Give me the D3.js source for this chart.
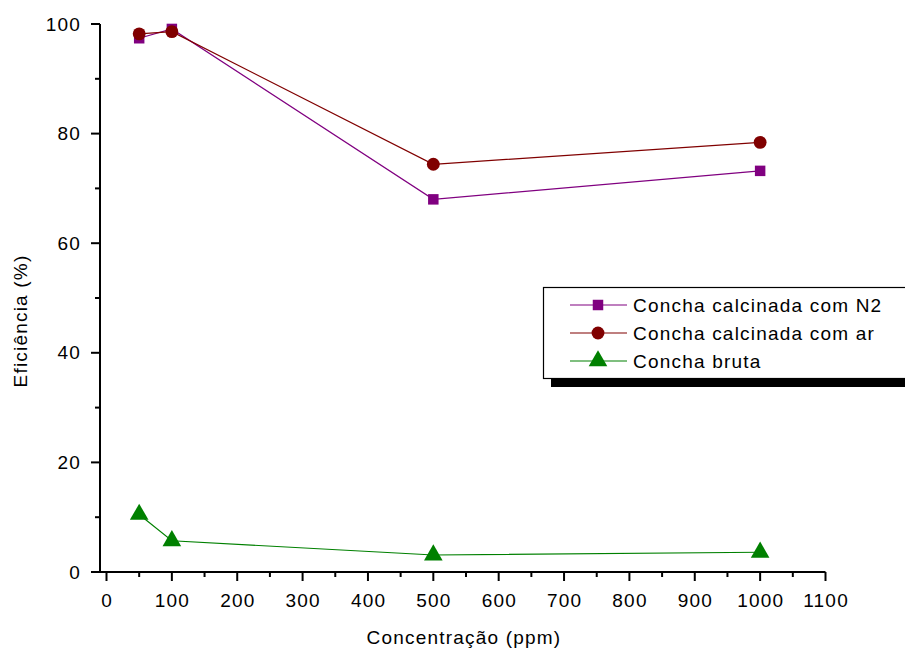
<!DOCTYPE html>
<html><head><meta charset="utf-8">
<script src="https://cdn.jsdelivr.net/npm/d3@7"></script>
<style>body{margin:0;background:#fff;} text{font-family:"Liberation Sans",Arial,sans-serif;letter-spacing:1.2px;}</style>
</head><body>
<svg id="c" width="905" height="650"></svg>
<script>
const concentracao = [50, 100, 500, 1000];
const seriesNames = ["Concha calcinada com N2", "Concha calcinada com ar", "Concha bruta"];
const valoresN2 = [97.4, 99.1, 68.0, 73.2];
const valoresAr = [98.2, 98.6, 74.4, 78.4];
const valoresBruta = [10.5, 5.7, 3.1, 3.6];
const xTicks = [0,100,200,300,400,500,600,700,800,900,1000,1100];
const yTicks = [0,20,40,60,80,100];
const xLabel = "Concentração (ppm)";
const yLabel = "Eficiência (%)";

const colors = ["#800080", "#800000", "#008000"];
const symbols = [d3.symbolSquare, d3.symbolCircle, d3.symbolTriangle];
const symSizes = [110, 130, 150];
const allSeries = [valoresN2, valoresAr, valoresBruta];

const svg = d3.select("#c");
const x = d3.scaleLinear().domain([0, 1100]).range([106.5, 825.5]);
const y = d3.scaleLinear().domain([0, 100]).range([572, 24]);

// axes
const xAxis = svg.append("g").attr("transform", "translate(0,572)");
xAxis.append("line").attr("x1", 99).attr("x2", x(1100)).attr("y1", 0).attr("y2", 0).attr("stroke", "#000").attr("stroke-width", 2);
const xMinor = d3.range(50, 1100, 100);
xAxis.selectAll(".mj").data(xTicks).join("line").attr("x1", d => x(d)).attr("x2", d => x(d)).attr("y1", 0).attr("y2", 9).attr("stroke", "#000").attr("stroke-width", 2);
xAxis.selectAll(".mn").data(xMinor).join("line").attr("x1", d => x(d)).attr("x2", d => x(d)).attr("y1", 0).attr("y2", 5).attr("stroke", "#000").attr("stroke-width", 2);
xAxis.selectAll(".lb").data(xTicks).join("text").attr("x", d => x(d) + 0.6).attr("y", 35).attr("text-anchor", "middle").attr("font-size", 19).text(d => d);

const yAxis = svg.append("g").attr("transform", "translate(100,0)");
yAxis.append("line").attr("x1", 0).attr("x2", 0).attr("y1", y(100)).attr("y2", 573).attr("stroke", "#000").attr("stroke-width", 2);
const yMinor = d3.range(10, 100, 20);
yAxis.selectAll(".mj").data(yTicks).join("line").attr("x1", -9).attr("x2", 0).attr("y1", d => y(d)).attr("y2", d => y(d)).attr("stroke", "#000").attr("stroke-width", 2);
yAxis.selectAll(".mn").data(yMinor).join("line").attr("x1", -5).attr("x2", 0).attr("y1", d => y(d)).attr("y2", d => y(d)).attr("stroke", "#000").attr("stroke-width", 2);
yAxis.selectAll(".lb").data(yTicks).join("text").attr("x", -19).attr("y", d => y(d)).attr("dy", "0.35em").attr("text-anchor", "end").attr("font-size", 19).text(d => d);

svg.append("text").attr("x", 464).attr("y", 644).attr("text-anchor", "middle").attr("font-size", 19).text(xLabel);
svg.append("text").attr("transform", "translate(27,321) rotate(-90)").attr("text-anchor", "middle").attr("font-size", 19).text(yLabel);

// series
const line = d3.line().x((d, i) => x(concentracao[i])).y(d => y(d));
allSeries.forEach((vals, s) => {
  svg.append("path").datum(vals).attr("d", line).attr("fill", "none").attr("stroke", colors[s]).attr("stroke-width", 1.2);
});
allSeries.forEach((vals, s) => {
  svg.selectAll(".m" + s).data(vals).join("path")
    .attr("transform", (d, i) => `translate(${x(concentracao[i])},${y(d)})`)
    .attr("d", d3.symbol().type(symbols[s]).size(symSizes[s]))
    .attr("fill", colors[s]);
});

// legend
const lg = svg.append("g");
lg.append("rect").attr("x", 551).attr("y", 378).attr("width", 360).attr("height", 9).attr("fill", "#000");
lg.append("rect").attr("x", 543.5).attr("y", 287.5).attr("width", 370).attr("height", 91).attr("fill", "#fff").attr("stroke", "#000").attr("stroke-width", 1.2);
seriesNames.forEach((name, s) => {
  const yy = 305 + s * 28;
  lg.append("line").attr("x1", 570).attr("x2", 627).attr("y1", yy).attr("y2", yy).attr("stroke", colors[s]).attr("stroke-width", 1.2);
  lg.append("path").attr("transform", `translate(598,${yy})`).attr("d", d3.symbol().type(symbols[s]).size(symSizes[s])).attr("fill", colors[s]);
  lg.append("text").attr("x", 633).attr("y", yy).attr("dy", "0.35em").attr("font-size", 19).text(name);
});
</script>
</body></html>
